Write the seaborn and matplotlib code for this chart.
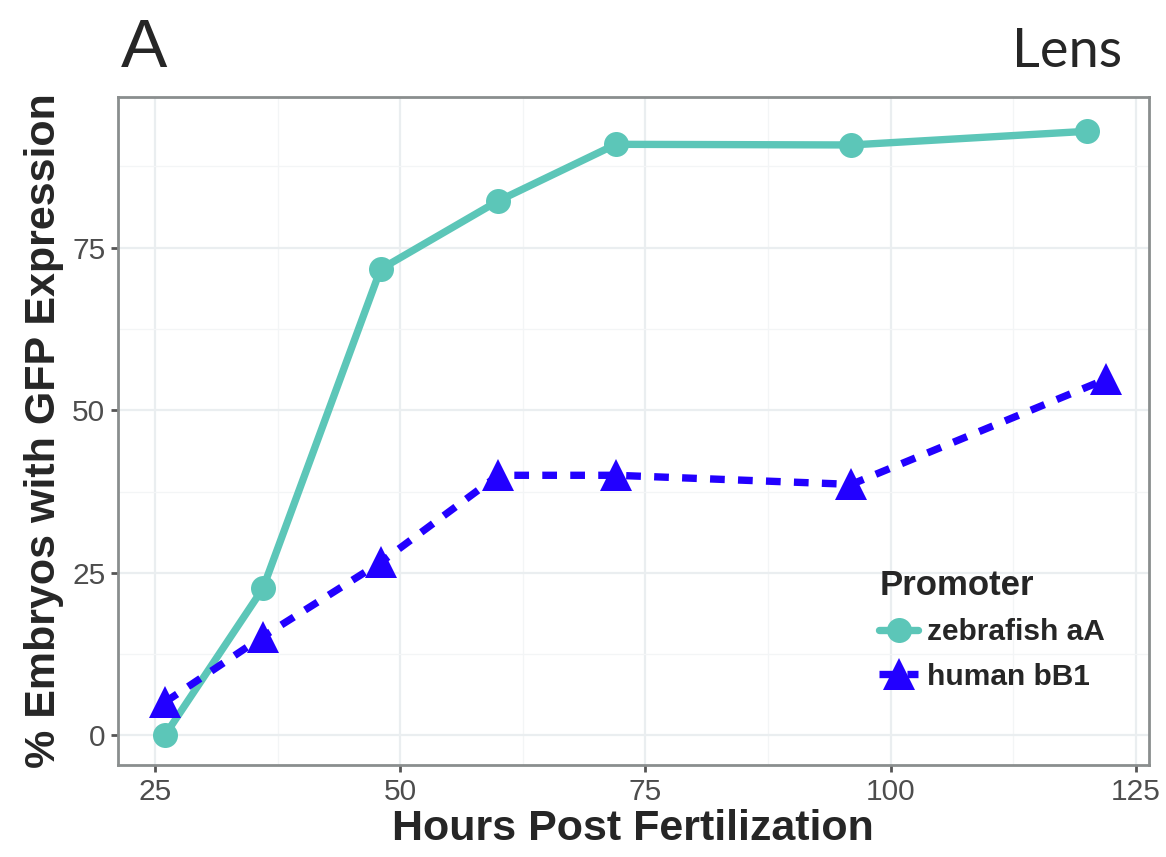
import pandas as pd
import matplotlib
matplotlib.use("Agg")
import matplotlib.pyplot as plt
import seaborn as sns

# Data
hours_zebrafish = [26, 36, 48, 60, 72, 96, 120]
pct_zebrafish = [0, 22.6, 71.7, 82.2, 90.9, 90.8, 92.9]
hours_human = [26, 36, 48, 60, 72, 96, 122]
pct_human = [5.1, 15.2, 26.6, 40.0, 40.0, 38.6, 54.8]
promoters = ["zebrafish aA", "human bB1"]

df = pd.concat([
    pd.DataFrame({"hours": hours_zebrafish, "pct": pct_zebrafish, "Promoter": promoters[0]}),
    pd.DataFrame({"hours": hours_human, "pct": pct_human, "Promoter": promoters[1]}),
])

sns.set_style("whitegrid")
plt.rcParams["font.family"] = ["Liberation Sans", "DejaVu Sans"]

fig = plt.figure(figsize=(11.66, 8.57), dpi=100)
ax = fig.add_axes([0.101, 0.107, 0.884, 0.780])

palette = {"zebrafish aA": "#5cc6b8", "human bB1": "#2200ff"}
marker_sizes = {"zebrafish aA": 18, "human bB1": 23}
sns.lineplot(data=df, x="hours", y="pct", hue="Promoter", style="Promoter",
             hue_order=promoters, style_order=promoters, palette=palette,
             markers={"zebrafish aA": "o", "human bB1": "^"},
             dashes={"zebrafish aA": "", "human bB1": (2, 1.8)},
             linewidth=5.3, markersize=18, markeredgewidth=0, ax=ax, legend=False)

# bigger triangles, as in the reference
for line, name in zip(ax.lines, promoters):
    line.set_markersize(marker_sizes[name])

ax.set_xlim(21.2, 126.3)
ax.set_ylim(-4.6, 98.2)
ax.set_xticks([25, 50, 75, 100, 125])
ax.set_yticks([0, 25, 50, 75])
ax.set_xticks([37.5, 62.5, 87.5, 112.5], minor=True)
ax.set_yticks([12.5, 37.5, 62.5, 87.5], minor=True)
ax.grid(which="major", color="#eaeef0", linewidth=1.6)
ax.grid(which="minor", color="#f3f5f6", linewidth=0.9)
for s in ax.spines.values():
    s.set_color("#8a8e8e")
    s.set_linewidth(2)
ax.tick_params(axis="both", which="major", labelsize=21.5, labelcolor="#4d4d4d",
               bottom=True, left=True, length=5, width=2, color="#555555", pad=4)
ax.tick_params(axis="both", which="minor", length=0)

ax.set_xlabel("Hours Post Fertilization", fontsize=31, fontweight="bold", labelpad=2)
ax.set_ylabel("% Embryos with GFP Expression", fontsize=31, fontweight="bold", labelpad=6)

fig.text(0.104, 0.905, "A", fontsize=50, ha="left", va="bottom")
fig.text(0.962, 0.911, "Lens", fontsize=39, ha="right", va="bottom",
         family=["Lato", "Liberation Sans"])

# legend handles built by hand to match the drawn lines
handles = [
    plt.Line2D([], [], color=palette[p], linewidth=5.3, marker=m, markersize=marker_sizes[p],
               markeredgewidth=0, linestyle="-" if p == promoters[0] else (0, (2, 1.8)))
    for p, m in zip(promoters, ["o", "^"])
]
leg = ax.legend(handles, promoters, title="Promoter", loc="upper left",
                bbox_to_anchor=(0.754, 0.336), bbox_transform=fig.transFigure,
                frameon=False, fontsize=21.5, title_fontsize=25,
                handlelength=1.3, handletextpad=0.3, borderpad=0, borderaxespad=0,
                labelspacing=0.55)
leg.get_title().set_fontweight("bold")
leg._legend_box.align = "left"
for t in leg.get_texts():
    t.set_fontweight("bold")

fig.savefig("out.png", dpi=100)
